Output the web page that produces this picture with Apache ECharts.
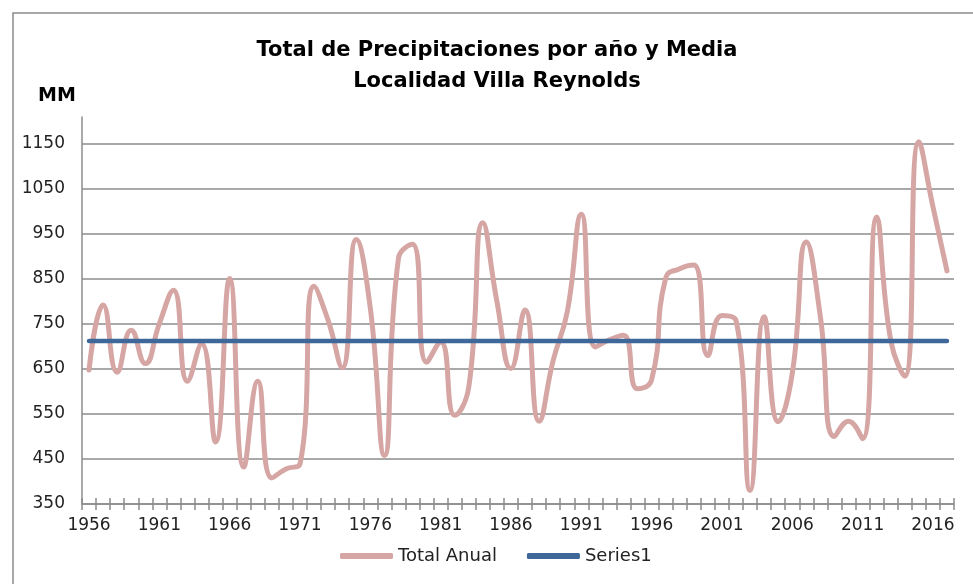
<!DOCTYPE html>
<html>
<head>
<meta charset="utf-8">
<script src="https://cdn.jsdelivr.net/npm/echarts@6/dist/echarts.min.js"></script>
<style>
  html, body { margin: 0; padding: 0; background: #fff; }
  #chart { width: 973px; height: 584px; }
</style>
</head>
<body>
<div id="chart"></div>
<script>
// años (eje x)
const years = [
  '1956', '1957', '1958', '1959', '1960', '1961', '1962', '1963', '1964', '1965',
  '1966', '1967', '1968', '1969', '1970', '1971', '1972', '1973', '1974', '1975',
  '1976', '1977', '1978', '1979', '1980', '1981', '1982', '1983', '1984', '1985',
  '1986', '1987', '1988', '1989', '1990', '1991', '1992', '1993', '1994', '1995',
  '1996', '1997', '1998', '1999', '2000', '2001', '2002', '2003', '2004', '2005',
  '2006', '2007', '2008', '2009', '2010', '2011', '2012', '2013', '2014', '2015',
  '2016', '2017'
]
// total anual de precipitaciones (mm)
const totalAnual = [
  648, 792, 643, 736, 662, 751, 825, 623, 706, 488,
  851, 432, 623, 408, 428, 439, 834, 758, 653, 938,
  785, 458, 896, 927, 665, 710, 547, 610, 975, 800,
  651, 781, 534, 669, 777, 994, 699, 715, 725, 606,
  626, 852, 873, 881, 680, 769, 758, 380, 766, 533,
  640, 932, 766, 500, 534, 495, 988, 714, 634, 1155,
  1011, 868
]
// media del periodo (Series1)
const media = 712
const series1 = years.map(() => media)

const FONT = 'DejaVu Sans'
const yMin = 350
const yMax = 1210
const yLabelStep = 100

// lineas de la grilla solo cada 100 (350, 450, ... 1150)
const splitColors = []
for (let v = yMin; v <= 1200; v += 50) {
  splitColors.push((v - yMin) % yLabelStep === 0 ? '#8c8c8c' : 'rgba(0,0,0,0)')
}
splitColors.push('rgba(0,0,0,0)')

const titleStyle = {
  fontFamily: 'DejaVu Sans',
  fontWeight: 'bold',
  fontSize: 21,
  color: '#000'
}
const gridBox = { left: 82, right: 19, top: 117, bottom: 80 }
const tickStyle = { color: '#8c8c8c', width: 1.5 }

const chart = echarts.init(document.getElementById('chart'))
const option = {
  backgroundColor: '#fff',
  animation: false,
  title: [{
    text: 'Total de Precipitaciones por año y Media',
    left: 492,
    textAlign: 'center',
    top: 35,
    textStyle: titleStyle
  }, {
    text: 'Localidad Villa Reynolds',
    left: 492,
    textAlign: 'center',
    top: 66,
    textStyle: titleStyle
  }, {
    text: 'MM',
    left: 33,
    top: 82,
    textStyle: {
      fontFamily: 'DejaVu Sans',
      fontWeight: 'bold',
      fontSize: 19,
      color: '#000'
    }
  }],
  graphic: [{
    type: 'rect',
    shape: { x: 13, y: 13, width: 1200, height: 1200 },
    style: { fill: 'none', stroke: '#8c8c8c', lineWidth: 1.5 },
    silent: true
  }],
  legend: {
    bottom: 14,
    left: 335,
    itemWidth: 53,
    itemHeight: 6,
    itemGap: 30,
    icon: 'roundRect',
    textStyle: { fontFamily: FONT, fontSize: 18, color: '#222' },
    data: ['Total Anual', 'Series1']
  },
  // segunda grilla igual a la primera: solo aporta la mitad superior de las marcas del eje x
  grid: [gridBox, gridBox],
  xAxis: [{
    type: 'category',
    gridIndex: 0,
    data: years,
    boundaryGap: true,
    axisLine: { show: true, lineStyle: tickStyle },
    axisTick: { show: true, interval: 0, length: 6, lineStyle: tickStyle },
    axisLabel: {
      interval: 4,
      margin: 13,
      fontFamily: FONT,
      fontSize: 17,
      color: '#222'
    },
    splitLine: { show: false }
  }, {
    type: 'category',
    gridIndex: 1,
    data: years,
    position: 'bottom',
    offset: -6,
    boundaryGap: true,
    axisLine: { show: true, onZero: false, lineStyle: { color: 'rgba(0,0,0,0)' } },
    axisTick: { show: true, interval: 0, length: 6, lineStyle: tickStyle },
    axisLabel: { show: false },
    splitLine: { show: false }
  }],
  yAxis: [{
    type: 'value',
    gridIndex: 0,
    min: yMin,
    max: yMax,
    interval: 50,
    axisLine: { show: true, lineStyle: tickStyle },
    axisTick: { show: false },
    axisLabel: {
      margin: 17,
      fontFamily: FONT,
      fontSize: 17,
      color: '#222',
      showMaxLabel: false,
      formatter: v => ((v - yMin) % yLabelStep === 0 && v <= 1150) ? String(v) : ''
    },
    splitLine: { show: true, lineStyle: { color: splitColors, width: 1.5 } }
  }, {
    type: 'value',
    gridIndex: 1,
    min: yMin,
    max: yMax,
    interval: 50,
    axisLine: { show: false },
    axisTick: { show: false },
    axisLabel: { show: false },
    splitLine: { show: false }
  }],
  series: [{
    name: 'Total Anual',
    type: 'line',
    data: totalAnual,
    smooth: 0.5,
    symbol: 'none',
    clip: false,
    lineStyle: { color: '#d5a6a4', width: 5, cap: 'round', join: 'round' },
    itemStyle: { color: '#d5a6a4' },
    z: 3
  }, {
    name: 'Series1',
    type: 'line',
    xAxisIndex: 1,
    yAxisIndex: 1,
    data: series1,
    symbol: 'none',
    lineStyle: { color: '#3d6899', width: 4.5, cap: 'round' },
    itemStyle: { color: '#3d6899' },
    z: 4
  }]
}
chart.setOption(option)
</script>
</body>
</html>
